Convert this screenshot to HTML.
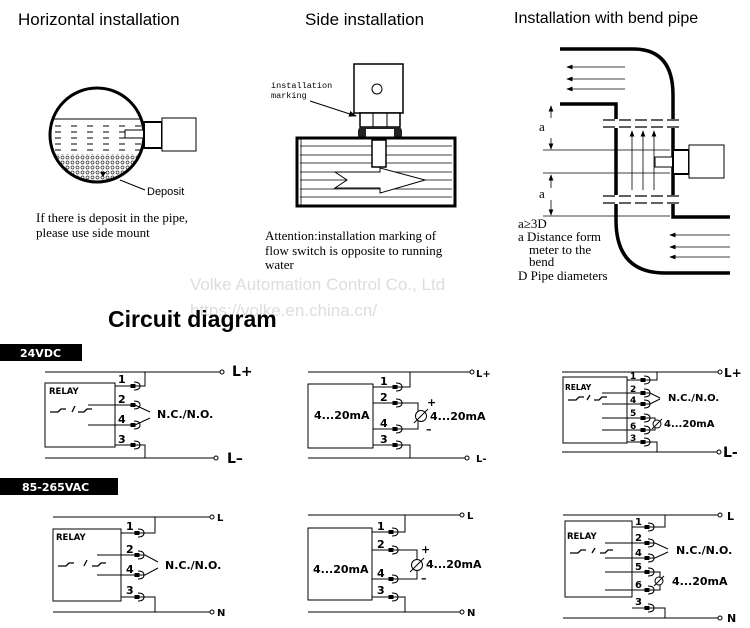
<!DOCTYPE html>
<html><head><meta charset="utf-8"><style>
html,body{margin:0;padding:0;background:#fff;width:750px;height:628px;overflow:hidden}
svg{display:block}
.t{font-family:"Liberation Sans",sans-serif}
.s{font-family:"Liberation Serif",serif;font-size:13px}
.b{font-family:"DejaVu Sans","Liberation Sans",sans-serif;font-weight:bold;font-size:11px}
</style></head><body>
<svg width="750" height="628" viewBox="0 0 750 628" xmlns="http://www.w3.org/2000/svg" stroke-linecap="butt">
<defs>
<marker id="ah" markerWidth="8" markerHeight="8" refX="7" refY="4" orient="auto"><path d="M0,1 L8,4 L0,7z" fill="#000"/></marker>
<pattern id="dots" width="5" height="5" patternUnits="userSpaceOnUse"><circle cx="2.5" cy="2.5" r="1.5" fill="none" stroke="#333" stroke-width="0.7"/></pattern>
<clipPath id="cc"><circle cx="97" cy="135" r="46"/></clipPath>
<g id="tm" fill="#000" stroke="#000" stroke-width="1"><rect x="-3" y="-1.5" width="4" height="3"/><path d="M0,-4 Q6,-4 6,0 Q6,4 0,4" fill="none"/></g>
</defs>
<!-- Titles -->
<text x="18" y="25" class="t" font-size="17">Horizontal installation</text>
<text x="305" y="25" class="t" font-size="17">Side installation</text>
<text x="514" y="23" class="t" font-size="16">Installation with bend pipe</text>

<!-- Horizontal -->
<g clip-path="url(#cc)">
<rect x="50" y="154" width="95" height="35" fill="url(#dots)"/>
<line x1="50" y1="119" x2="145" y2="119" stroke="#000" stroke-width="1"/>
<g stroke="#000" stroke-width="1" stroke-dasharray="6,10">
<line x1="55" y1="126" x2="145" y2="126"/><line x1="55" y1="132" x2="145" y2="132"/><line x1="55" y1="138" x2="145" y2="138"/><line x1="55" y1="144" x2="145" y2="144"/><line x1="55" y1="150" x2="145" y2="150"/>
</g>
</g>
<circle cx="97" cy="135" r="47" fill="none" stroke="#000" stroke-width="3"/>
<rect x="125" y="130" width="20" height="8" fill="#fff" stroke="#000"/>
<rect x="144" y="122" width="18" height="26" fill="#fff" stroke="#000" stroke-width="2"/>
<rect x="162" y="118" width="34" height="33" fill="#fff" stroke="#000"/>
<path d="M100,172 L106,172 L103,177z" fill="#000"/>
<line x1="120" y1="180" x2="145" y2="190" stroke="#000"/>
<text x="147" y="195" class="t" font-size="11">Deposit</text>
<text x="36" y="222" class="s">If there is deposit in the pipe,</text>
<text x="36" y="237" class="s">please use side mount</text>

<!-- Side -->
<rect x="354" y="64" width="49" height="49" fill="#fff" stroke="#000" stroke-width="1.5"/>
<circle cx="377" cy="89" r="5" fill="none" stroke="#000"/>
<rect x="360" y="113" width="40" height="14" fill="#fff" stroke="#000" stroke-width="1.5"/>
<line x1="373" y1="113" x2="373" y2="127" stroke="#000"/><line x1="387" y1="113" x2="387" y2="127" stroke="#000"/>
<rect x="358" y="127" width="44" height="13" rx="4" fill="#222"/>
<rect x="366" y="129" width="28" height="9" fill="#fff"/>
<rect x="297" y="138" width="158" height="68" fill="#fff" stroke="#000" stroke-width="3"/>
<g stroke="#000" stroke-width="0.8">
<line x1="300" y1="146" x2="452" y2="146"/><line x1="300" y1="155" x2="452" y2="155"/><line x1="300" y1="163" x2="452" y2="163"/><line x1="300" y1="172" x2="452" y2="172"/><line x1="300" y1="180" x2="452" y2="180"/><line x1="300" y1="189" x2="452" y2="189"/><line x1="300" y1="197" x2="452" y2="197"/>
<line x1="301" y1="139" x2="301" y2="205"/>
</g>
<rect x="372" y="140" width="14" height="27" fill="#fff" stroke="#000" stroke-width="1.5"/>
<path d="M335,172 L380,172 L380,168 L425,180 L380,193 L380,188 L335,188 L347,180z" fill="#fff" stroke="#000"/>
<text x="271" y="88" font-family="Liberation Mono,monospace" font-size="8.5">installation</text>
<text x="271" y="98" font-family="Liberation Mono,monospace" font-size="8.5">marking</text>
<line x1="310" y1="101" x2="356" y2="116" stroke="#000" marker-end="url(#ah)"/>
<text x="265" y="240" class="s">Attention:installation marking of</text>
<text x="265" y="255" class="s">flow switch is opposite to running</text>
<text x="265" y="269" class="s">water</text>

<!-- Bend pipe -->
<g fill="none" stroke="#000" stroke-width="3.5">
<path d="M560,49 L633,49 Q673,49 673,95 L673,217 L730,217"/>
<path d="M560,104 L616,104 L616,220 Q616,273 665,273 L730,273"/>
</g>
<g fill="#fff" stroke="none"><rect x="612" y="119" width="8" height="9"/><rect x="669" y="119" width="8" height="9"/><rect x="612" y="195" width="8" height="9"/><rect x="669" y="195" width="8" height="9"/></g>
<g stroke="#000" stroke-width="1.2" stroke-dasharray="12,4">
<line x1="603" y1="120" x2="683" y2="120"/><line x1="603" y1="127" x2="683" y2="127"/><line x1="603" y1="196" x2="683" y2="196"/><line x1="603" y1="203" x2="683" y2="203"/>
</g>
<g stroke="#000" stroke-width="0.8">
<line x1="543" y1="150" x2="670" y2="150"/><line x1="543" y1="173" x2="670" y2="173"/><line x1="543" y1="216" x2="670" y2="216"/>
<line x1="625" y1="67" x2="567" y2="67" marker-end="url(#ah)"/><line x1="625" y1="79" x2="567" y2="79" marker-end="url(#ah)"/><line x1="625" y1="89" x2="567" y2="89" marker-end="url(#ah)"/>
<line x1="730" y1="235" x2="670" y2="235" marker-end="url(#ah)"/><line x1="730" y1="247" x2="670" y2="247" marker-end="url(#ah)"/><line x1="730" y1="257" x2="670" y2="257" marker-end="url(#ah)"/>
<line x1="632" y1="190" x2="632" y2="131" marker-end="url(#ah)"/><line x1="643" y1="190" x2="643" y2="131" marker-end="url(#ah)"/><line x1="654" y1="190" x2="654" y2="131" marker-end="url(#ah)"/>
<line x1="551" y1="118" x2="551" y2="106" marker-end="url(#ah)"/><line x1="551" y1="138" x2="551" y2="149" marker-end="url(#ah)"/>
<line x1="551" y1="188" x2="551" y2="175" marker-end="url(#ah)"/><line x1="551" y1="200" x2="551" y2="215" marker-end="url(#ah)"/>
</g>
<text x="539" y="131" class="s" font-size="9">a</text><text x="539" y="198" class="s" font-size="9">a</text>
<rect x="655" y="157" width="18" height="10" fill="#fff" stroke="#000"/>
<rect x="673" y="150" width="16" height="24" fill="#fff" stroke="#000" stroke-width="2"/>
<rect x="689" y="145" width="35" height="33" fill="#fff" stroke="#000"/>
<text x="518" y="228" class="s" font-size="12">a≥3D</text>
<text x="518" y="241" class="s" font-size="12">a Distance form</text>
<text x="529" y="254" class="s" font-size="12">meter to the</text>
<text x="529" y="266" class="s" font-size="12">bend</text>
<text x="518" y="280" class="s" font-size="12">D Pipe diameters</text>

<!-- watermark -->
<text x="190" y="290" class="t" font-size="17" fill="#ddd">Volke Automation Control Co., Ltd</text>
<text x="190" y="316" class="t" font-size="17" fill="#ddd">https://volke.en.china.cn/</text>
<text x="108" y="327" class="t" font-size="23" font-weight="bold">Circuit diagram</text>

<!-- labels -->
<rect x="0" y="344" width="82" height="17" fill="#000"/>
<text x="20" y="357" class="b" font-size="11" fill="#fff">24VDC</text>
<rect x="0" y="478" width="118" height="17" fill="#000"/>
<text x="22" y="491" class="b" font-size="11" fill="#fff">85-265VAC</text>

<g fill="none" stroke="#000" stroke-width="1">
<!-- P1 -->
<line x1="45" y1="372" x2="220" y2="372"/><line x1="45" y1="458" x2="214" y2="458"/>
<rect x="45" y="383" width="70" height="64"/>
<path d="M115,386 H145 V372"/><path d="M115,445 H145 V458"/>
<path d="M88,405 H135 L150,412"/><path d="M88,425 H135 L150,418"/>
<path d="M50,412 h8 l3,-3 h5 M72,412 l3,-6 M78,412 h6 l3,-3 h5" stroke-width="1.3"/>
<!-- P2 -->
<line x1="308" y1="372" x2="470" y2="372"/><line x1="308" y1="458" x2="465" y2="458"/>
<rect x="308" y="384" width="65" height="64"/>
<path d="M373,387 H410 V372"/><path d="M373,445 H410 V458"/>
<path d="M373,403 H418 V429 H373"/>
<!-- P3 -->
<line x1="562" y1="372" x2="718" y2="372"/><line x1="562" y1="452" x2="717" y2="452"/>
<rect x="563" y="377" width="64" height="66"/>
<path d="M627,380 H657 V372"/><path d="M627,442 H657 V452"/>
<path d="M602,393 H650 L660,398"/><path d="M602,404 H650 L660,399"/>
<path d="M602,418 H655 V430 H602"/>
<path d="M568,400 h8 l3,-3 h5 M587,400 l3,-5 M594,400 h5 l3,-3 h5" stroke-width="1.3"/>
<!-- P4 -->
<line x1="53" y1="517" x2="210" y2="517"/><line x1="53" y1="612" x2="210" y2="612"/>
<rect x="53" y="529" width="68" height="72"/>
<path d="M121,533 H155 V517"/><path d="M121,597 H155 V612"/>
<path d="M97,555 H145 L158,562"/><path d="M97,575 H145 L158,568"/>
<path d="M58,566 h8 l3,-3 h5 M84,566 l3,-6 M92,566 h6 l3,-3 h5" stroke-width="1.3"/>
<!-- P5 -->
<line x1="308" y1="515" x2="460" y2="515"/><line x1="308" y1="612" x2="460" y2="612"/>
<rect x="308" y="528" width="64" height="72"/>
<path d="M372,532 H405 V515"/><path d="M372,597 H405 V612"/>
<path d="M372,550 H417 V579 H372"/>
<!-- P6 -->
<line x1="563" y1="515" x2="718" y2="515"/><line x1="563" y1="618" x2="718" y2="618"/>
<rect x="565" y="521" width="67" height="76"/>
<path d="M632,527 H665 V515"/><path d="M632,608 H665 V618"/>
<path d="M605,543 H655 L668,549"/><path d="M605,558 H655 L668,552"/>
<path d="M605,572 H660 V590 H605"/>
<path d="M570,553 h8 l3,-3 h5 M592,553 l3,-5 M600,553 h5 l3,-3 h5" stroke-width="1.3"/>
</g>
<g>
<use href="#tm" x="134" y="386"/><use href="#tm" x="134" y="405"/><use href="#tm" x="134" y="425"/><use href="#tm" x="134" y="445"/>
<use href="#tm" x="396" y="387"/><use href="#tm" x="396" y="403"/><use href="#tm" x="396" y="429"/><use href="#tm" x="396" y="445"/>
<use href="#tm" x="644" y="380"/><use href="#tm" x="644" y="393"/><use href="#tm" x="644" y="404"/><use href="#tm" x="644" y="418"/><use href="#tm" x="644" y="430"/><use href="#tm" x="644" y="442"/>
<use href="#tm" x="138" y="533"/><use href="#tm" x="138" y="555"/><use href="#tm" x="138" y="575"/><use href="#tm" x="138" y="597"/>
<use href="#tm" x="392" y="532"/><use href="#tm" x="392" y="550"/><use href="#tm" x="392" y="579"/><use href="#tm" x="392" y="597"/>
<use href="#tm" x="648" y="527"/><use href="#tm" x="648" y="543"/><use href="#tm" x="648" y="558"/><use href="#tm" x="648" y="572"/><use href="#tm" x="648" y="590"/><use href="#tm" x="648" y="608"/>
</g>
<!-- meters -->
<g fill="#fff" stroke="#000">
<circle cx="421" cy="416" r="5.5"/><circle cx="657" cy="424" r="4"/><circle cx="417" cy="565" r="5.5"/><circle cx="659" cy="581" r="4"/>
</g>
<g stroke="#000"><line x1="414" y1="423" x2="428" y2="409"/><line x1="652" y1="429" x2="662" y2="419"/><line x1="410" y1="572" x2="424" y2="558"/><line x1="654" y1="586" x2="664" y2="576"/></g>
<!-- end circles -->
<g fill="#fff" stroke="#000">
<circle cx="222" cy="372" r="2"/><circle cx="216" cy="458" r="2"/><circle cx="472" cy="372" r="2"/><circle cx="467" cy="458" r="2"/>
<circle cx="720" cy="372" r="2"/><circle cx="719" cy="452" r="2"/><circle cx="212" cy="517" r="2"/><circle cx="212" cy="612" r="2"/>
<circle cx="462" cy="515" r="2"/><circle cx="462" cy="612" r="2"/><circle cx="720" cy="515" r="2"/><circle cx="720" cy="618" r="2"/>
</g>
<!-- texts -->
<g class="b">
<text x="232" y="376" font-size="14">L+</text><text x="227" y="463" font-size="14">L–</text>
<text x="49" y="394" font-size="8.5">RELAY</text>
<text x="118" y="383">1</text><text x="118" y="403">2</text><text x="118" y="423">4</text><text x="118" y="443">3</text>
<text x="157" y="418">N.C./N.O.</text>
<text x="476" y="377" font-size="10">L+</text><text x="476" y="462" font-size="10">L-</text>
<text x="314" y="419">4...20mA</text>
<text x="380" y="385">1</text><text x="380" y="401">2</text><text x="380" y="427">4</text><text x="380" y="443">3</text>
<text x="427" y="406">+</text><text x="426" y="433">–</text><text x="430" y="420">4...20mA</text>
<text x="724" y="377" font-size="12">L+</text><text x="723" y="457" font-size="14">L-</text>
<text x="565" y="390" font-size="7.5">RELAY</text>
<g font-size="9"><text x="630" y="379">1</text><text x="630" y="392">2</text><text x="630" y="403">4</text><text x="630" y="416">5</text><text x="630" y="429">6</text><text x="630" y="441">3</text></g>
<text x="668" y="401" font-size="10">N.C./N.O.</text><text x="664" y="427" font-size="10">4...20mA</text>
<text x="217" y="521" font-size="10">L</text><text x="217" y="616" font-size="10">N</text>
<text x="56" y="540" font-size="8.5">RELAY</text>
<text x="126" y="530">1</text><text x="126" y="553">2</text><text x="126" y="573">4</text><text x="126" y="594">3</text>
<text x="165" y="569">N.C./N.O.</text>
<text x="467" y="519" font-size="10">L</text><text x="467" y="616" font-size="10">N</text>
<text x="313" y="573">4...20mA</text>
<text x="377" y="530">1</text><text x="377" y="548">2</text><text x="377" y="577">4</text><text x="377" y="594">3</text>
<text x="421" y="553">+</text><text x="421" y="582">–</text><text x="426" y="568">4...20mA</text>
<text x="727" y="520" font-size="11">L</text><text x="727" y="622" font-size="11">N</text>
<text x="567" y="539" font-size="8.5">RELAY</text>
<g font-size="10"><text x="635" y="525">1</text><text x="635" y="541">2</text><text x="635" y="556">4</text><text x="635" y="570">5</text><text x="635" y="588">6</text><text x="635" y="605">3</text></g>
<text x="676" y="554">N.C./N.O.</text><text x="672" y="585">4...20mA</text>
</g>
</svg>
</body></html>
